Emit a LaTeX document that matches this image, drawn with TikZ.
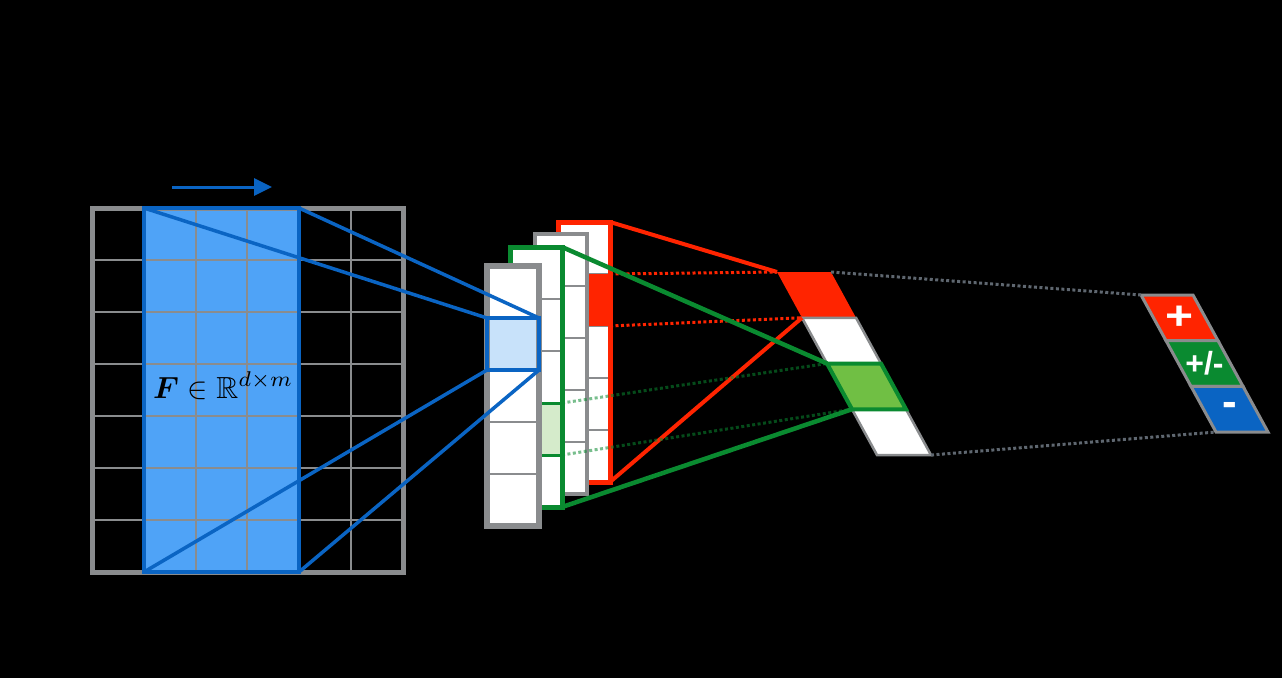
\documentclass[tikz,border=0pt]{standalone}
\usepackage{amsmath,amssymb}
\usepackage{fontspec}
\newfontfamily\signfont{Liberation Sans}
\usetikzlibrary{positioning,calc,arrows.meta}
\definecolor{winblue}{RGB}{10,100,195}
\definecolor{winfill}{RGB}{79,163,247}
\definecolor{cellblue}{RGB}{200,226,250}
\definecolor{gridgray}{RGB}{138,140,142}
\definecolor{dotgray}{RGB}{95,103,112}
\definecolor{posred}{RGB}{255,36,0}
\definecolor{neugreen}{RGB}{10,138,48}
\definecolor{cellgreen}{RGB}{213,235,203}
\definecolor{poolgreen}{RGB}{112,191,68}

\begin{document}
\begin{tikzpicture}[x=1pt,y=-1pt,
    gridline/.style={gridgray,line width=2pt},
    fcol/.style={fill=white,anchor=north west,inner sep=0pt,outer sep=0pt,minimum width=52pt,minimum height=260pt},
    fcell/.style={anchor=north west,inner sep=0pt,outer sep=0pt,minimum width=52pt,minimum height=52pt},
    colframe/.style={draw=#1,line width=5pt},
    solidlink/.style={#1,line width=4pt},
    dotlink/.style={#1,line width=3pt,dash pattern=on 3pt off 2.5pt},
    pool/.style={draw=gridgray,line width=2.5pt},
    sign/.style={text=white,inner sep=0pt,font=\signfont\bfseries\fontsize{#1}{#1}\selectfont}]
  \fill[black] (0,0) rectangle (1282,678);
  % feature map with the sliding window
  \node[fcol,fill=winfill,minimum width=155pt,minimum height=364pt] (win) at (144,208) {};
  \node[fcol,fill=none,minimum width=311pt,minimum height=364pt] (fmap) at (92,208) {};
  \foreach \i in {1,...,5}
    \draw[gridline] ($(fmap.north west)+(51.83*\i,0)$) -- ($(fmap.south west)+(51.83*\i,0)$);
  \foreach \j in {1,...,6}
    \draw[gridline] ($(fmap.north west)+(0,52*\j)$) -- ($(fmap.north east)+(0,52*\j)$);
  \draw[gridgray,line width=5pt] (fmap.north west) rectangle (fmap.south east);
  \draw[winblue,line width=4.5pt] (win.north west) rectangle (win.south east);
  \node[anchor=base west,inner sep=0pt] (flabel) at (153,398) {\scalebox{3.05}{$\boldsymbol{F}\in\mathbb{R}^{d\times m}$}};
  \coordinate (slidefrom) at (172,187);
  \coordinate (slideto) at (272,187);
  \draw[winblue,line width=3pt,-{Triangle[length=18pt,width=17pt]}] (slidefrom) -- (slideto);

  % stacked filter outputs, back to front
  \node[fcol] (colR) at (558,222) {};
  \foreach \k in {1,...,4}
    \draw[gridline] ($(colR.north west)+(0,52*\k)$) -- ++(52,0);
  \node[fcell,fill=posred] (redcell) at ($(colR.north west)+(0,52)$) {};
  \draw[colframe=posred] (colR.north west) rectangle (colR.south east);

  \node[fcol] (colB) at (535,234) {};
  \foreach \k in {1,...,4}
    \draw[gridline] ($(colB.north west)+(0,52*\k)$) -- ++(52,0);
  \draw[colframe=gridgray,line width=4pt] (colB.north west) rectangle (colB.south east);

  \node[fcol] (colG) at (510,247) {};
  \foreach \k in {1,...,4}
    \draw[gridline] ($(colG.north west)+(0,52*\k)$) -- ++(52,0);
  \node[fcell,fill=cellgreen,draw=neugreen,line width=3pt] (greencell) at ($(colG.north west)+(0,156)$) {};
  \draw[colframe=neugreen] (colG.north west) rectangle (colG.south east);

  \node[fcol] (colF) at (487,266) {};
  \foreach \k in {1,...,4}
    \draw[gridline] ($(colF.north west)+(0,52*\k)$) -- ++(52,0);
  \node[fcell,fill=cellblue] (bluecell) at ($(colF.north west)+(0,52)$) {};
  \draw[colframe=gridgray,line width=5.5pt] (colF.north west) rectangle (colF.south east);
  \draw[winblue,line width=4.5pt] (bluecell.north west) rectangle (bluecell.south east);

  % pooled column
  \foreach \k in {0,...,4} {
    \coordinate (pl\k) at ({777+25*\k},{272+45.75*\k});
    \coordinate (pr\k) at ({831+25*\k},{272+45.75*\k});
  }
  \fill[posred] (pl0) -- (pr0) -- (pr1) -- (pl1) -- cycle;
  \draw[pool,fill=white] (pl1) -- (pr1) -- (pr2) -- (pl2) -- cycle;
  \draw[pool,fill=white] (pl3) -- (pr3) -- (pr4) -- (pl4) -- cycle;
  \draw[fill=poolgreen,draw=neugreen,line width=4pt] (pl2) -- (pr2) -- (pr3) -- (pl3) -- cycle;

  % output classes
  \foreach \k in {0,...,3} {
    \coordinate (ol\k) at ({1141+25*\k},{295+45.67*\k});
    \coordinate (or\k) at ({1193+25*\k},{295+45.67*\k});
  }
  \draw[pool,line width=3pt,fill=posred] (ol0) -- (or0) -- (or1) -- (ol1) -- cycle;
  \draw[pool,line width=3pt,fill=neugreen] (ol1) -- (or1) -- (or2) -- (ol2) -- cycle;
  \draw[pool,line width=3pt,fill=winblue] (ol2) -- (or2) -- (or3) -- (ol3) -- cycle;
  \node[sign=40] (spos) at ($(ol0)!0.5!(or1)$) {\scalebox{1.2}[1]{+}};
  \node[sign=32] (sneu) at ($(ol1)!0.5!(or2)$) {+/-};
  \node[sign=44] (sneg) at ($(ol2)!0.5!(or3)$) {-};

  % connections
  \draw[solidlink=winblue,line width=3.5pt] (win.north west) -- (bluecell.north west);
  \draw[solidlink=winblue,line width=3.5pt] (win.north east) -- (bluecell.north east);
  \draw[solidlink=winblue,line width=3.5pt] (win.south west) -- (bluecell.south west);
  \draw[solidlink=winblue,line width=3.5pt] (win.south east) -- (bluecell.south east);
  \draw[solidlink=posred] (colR.north east) -- (pl0);
  \draw[solidlink=posred] (colR.south east) -- (pl1);
  \draw[dotlink=posred] (redcell.north east) -- (pl0);
  \draw[dotlink=posred] (redcell.south east) -- (pl1);
  \draw[solidlink=neugreen,line width=4.5pt] (colG.north east) -- (pl2);
  \draw[solidlink=neugreen,line width=4.5pt] (colG.south east) -- (pl3);
  \draw[dotlink=neugreen,opacity=0.55] (greencell.north east) -- (pl2);
  \draw[dotlink=neugreen,opacity=0.55] (greencell.south east) -- (pl3);
  \draw[dotlink=dotgray] (pr0) -- (ol0);
  \draw[dotlink=dotgray] (pr4) -- (ol3);
\end{tikzpicture}
\end{document}
